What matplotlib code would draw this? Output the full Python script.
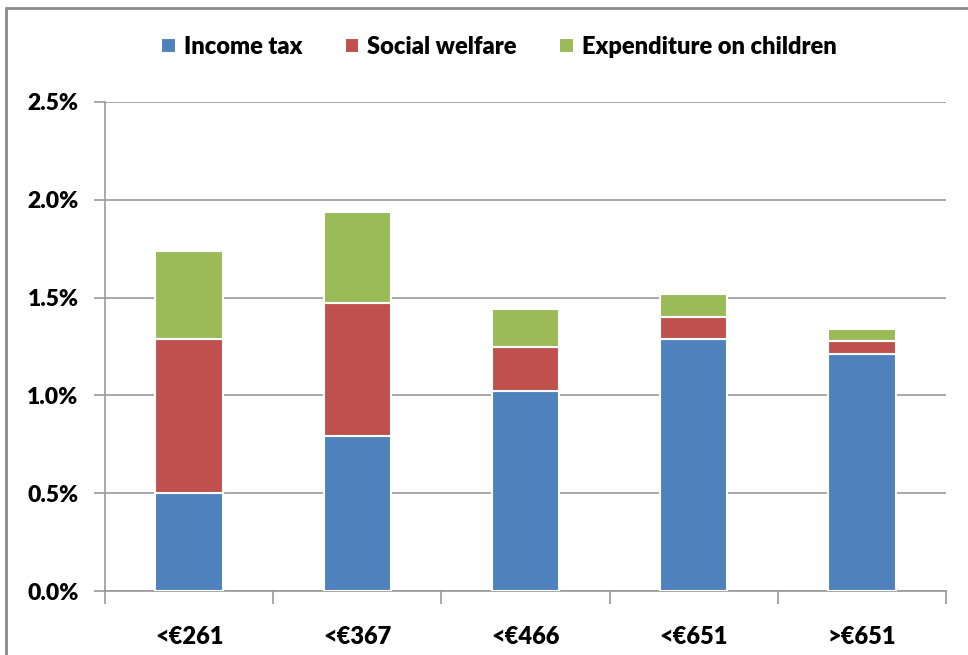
import matplotlib
matplotlib.use("Agg")
import matplotlib.pyplot as plt
from matplotlib.patches import Rectangle
import numpy as np

plt.rcParams['font.family'] = ['Lato', 'DejaVu Sans']
plt.rcParams['font.weight'] = 'heavy'

categories = ["<€261", "<€367", "<€466", "<€651", ">€651"]
income_tax = [0.50, 0.79, 1.02, 1.29, 1.21]
social_welfare = [0.79, 0.68, 0.23, 0.11, 0.07]
expenditure_children = [0.45, 0.47, 0.19, 0.12, 0.06]
series_names = ["Income tax", "Social welfare", "Expenditure on children"]
colors = ["#4F81BD", "#C0504D", "#9BBB59"]
yticks = [0.0, 0.5, 1.0, 1.5, 2.0, 2.5]
ytick_labels = ["0.0%", "0.5%", "1.0%", "1.5%", "2.0%", "2.5%"]

fig = plt.figure(figsize=(9.68, 6.55), dpi=100)
ax = fig.add_axes([105/968, 1-591/655, (946-105)/968, (591-102)/655])

x = np.arange(len(categories))
bottom = np.zeros(len(categories))
handles = []
for vals, name, c in zip([income_tax, social_welfare, expenditure_children], series_names, colors):
    vals = np.array(vals)
    b = ax.bar(x, vals, width=0.4, bottom=bottom, color=c, edgecolor='white',
               linewidth=1.5, label=name, zorder=3)
    handles.append(b)
    bottom = bottom + vals

ax.set_xlim(-0.5, len(categories) - 0.5)
ax.set_ylim(0, 2.5)
ax.set_yticks(yticks)
ax.set_yticklabels(ytick_labels)
ax.set_xticks(x)
ax.set_xticklabels(categories)
ax.set_xticks(np.arange(-0.5, len(categories)), minor=True)
ax.grid(axis='y', color='#9a9a9a', linewidth=1.2, zorder=0)
ax.tick_params(axis='y', which='major', length=8, color='#9a9a9a', width=1.2,
               labelsize=16.5, pad=11)
ax.tick_params(axis='x', which='major', length=0, labelsize=17, pad=25)
ax.tick_params(axis='x', which='minor', length=9, color='#9a9a9a', width=1.2)
for lab in ax.get_xticklabels() + ax.get_yticklabels():
    lab.set_fontweight('heavy')
for s in ['top', 'right']:
    ax.spines[s].set_visible(False)
for s in ['left', 'bottom']:
    ax.spines[s].set_color('#9a9a9a')
    ax.spines[s].set_linewidth(1.2)

leg = fig.legend(handles=handles, labels=series_names, loc='center',
                 bbox_to_anchor=(499/968, 1-47/655), ncol=3, frameon=False,
                 prop={'size': 17, 'weight': 'heavy'}, handlelength=0.6,
                 handleheight=0.6, handletextpad=0.35, columnspacing=1.8)

border = Rectangle((6/968, -0.1), 1.2, 1.1 - 8/655, transform=fig.transFigure,
                   fill=False, edgecolor='#8a8a8a', linewidth=2, clip_on=False)
fig.add_artist(border)

fig.savefig("out.png", dpi=100)
